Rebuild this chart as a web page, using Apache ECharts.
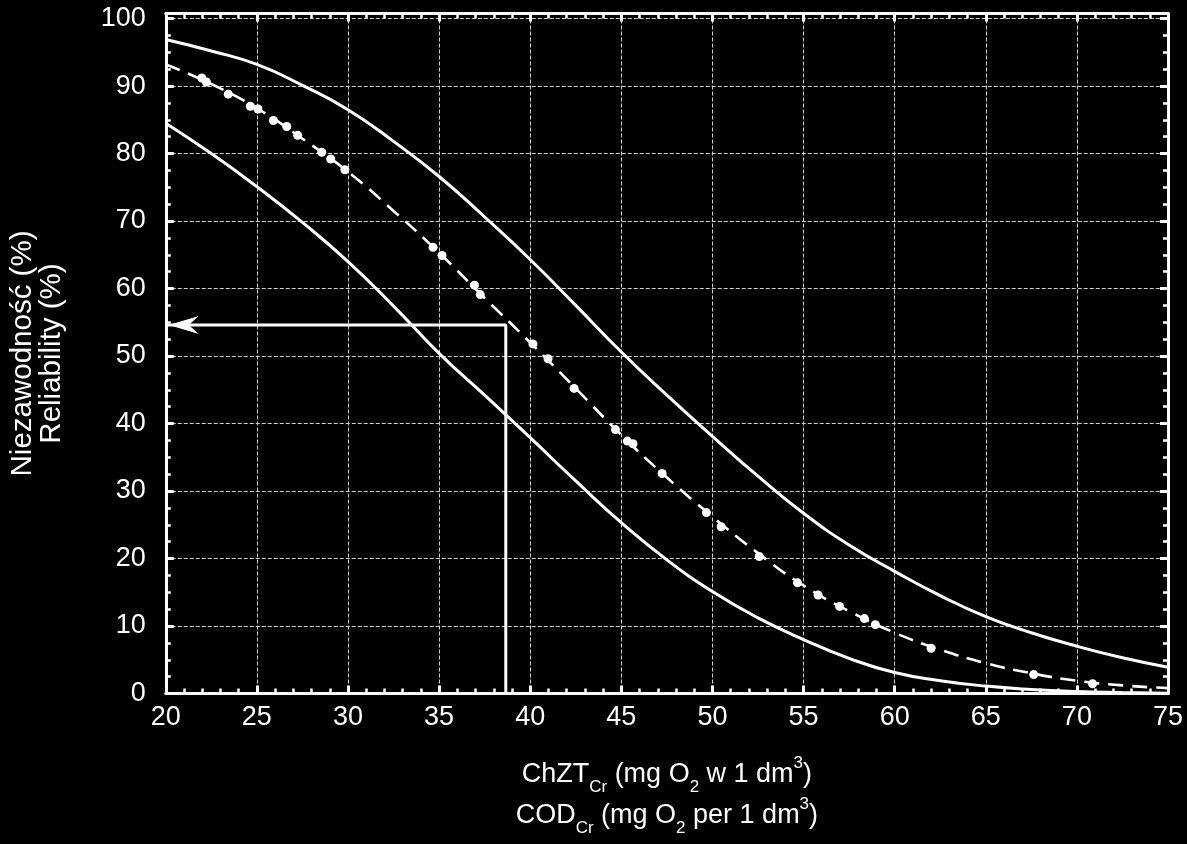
<!DOCTYPE html>
<html>
<head>
<meta charset="utf-8">
<script src="https://cdn.jsdelivr.net/npm/echarts@6/dist/echarts.min.js"></script>
<style>
html,body{margin:0;padding:0;background:#000;}
#c{width:1187px;height:844px;}
</style>
</head>
<body>
<div id="c"></div>
<script>
// ---- data ----
const xMin = 20, xMax = 75, xStep = 5;
const yMin = 0, yMax = 100.75, yStep = 10, yMinorStep = 2.5;
const curveX = [20, 22.5, 25, 27.5, 30, 32.5, 35, 37.5, 40, 42.5, 45, 47.5, 50, 52.5, 55, 57.5, 60, 62.5, 65, 67.5, 70, 72.5, 75];
const upperY = [96.9, 95.2, 93.2, 90.1, 86.5, 81.8, 76.6, 70.6, 64.3, 57.5, 50.6, 44.2, 38.1, 32.2, 26.7, 22.0, 18.1, 14.5, 11.4, 9.0, 7.0, 5.3, 3.9];
const lowerY = [84.5, 80.0, 75.1, 69.8, 64.0, 57.4, 50.4, 44.2, 37.9, 31.5, 25.3, 19.8, 15.1, 11.2, 8.0, 5.2, 3.1, 1.9, 1.1, 0.6, 0.3, 0.15, 0.05];
const fitY   = [93.2, 90.3, 86.7, 82.2, 77.3, 71.5, 65.3, 58.6, 52.0, 45.2, 38.3, 32.0, 26.2, 20.8, 16.0, 12.2, 9.0, 6.5, 4.5, 3.0, 1.9, 1.2, 0.8];
const obsX = [21.98, 22.23, 23.43, 24.64, 25.06, 25.91, 26.64, 27.24, 28.56, 29.05, 29.83, 34.67, 35.16, 36.94, 37.26, 40.15, 40.98, 42.41, 44.68, 45.33, 45.64, 47.24, 49.67, 50.48, 52.57, 54.67, 55.80, 56.98, 58.34, 58.94, 62.0, 67.63, 70.86];
const obsY = [91.2, 90.6, 88.8, 87.0, 86.6, 84.9, 84.0, 82.7, 80.2, 79.2, 77.6, 66.1, 64.9, 60.5, 59.1, 51.8, 49.6, 45.2, 39.1, 37.4, 37.0, 32.6, 26.8, 24.7, 20.3, 16.4, 14.6, 12.9, 11.1, 10.2, 6.7, 2.8, 1.45];
const readX = 38.66;
const readY = 54.6;    // resulting reliability
const yTitle = 'Niezawodność (%)\nReliability (%)';
const xTitle = '{m|ChZT}{s|Cr}{m| (mg O}{s|2}{m| w 1 dm}{p|3}{m|)}\n{m|COD}{s|Cr}{m| (mg O}{s|2}{m| per 1 dm}{p|3}{m|)}';

// ---- chart ----
const FONT = '"Liberation Sans", Arial, sans-serif';
const WHITE = '#ffffff';
const zip = (xs, ys) => xs.map((x, i) => [x, ys[i]]);
const gridLine = {show: true, lineStyle: {color: '#cfcfcf', width: 1, type: [4, 2]}};
const axisLineW = {show: true, onZero: false, lineStyle: {color: WHITE, width: 3}};
const majorTick = {show: true, inside: true, length: 8, lineStyle: {color: WHITE, width: 3}};
const minorTickStyle = {show: true, inside: true, length: 5, lineStyle: {color: WHITE, width: 2.5}};

const chart = echarts.init(document.getElementById('c'));
chart.setOption({
  backgroundColor: '#000000',
  animation: false,
  grid: {left: 157, right: 19, top: 13.5, bottom: 150.5},
  xAxis: [
    {
      type: 'value', min: xMin, max: xMax, interval: xStep, position: 'bottom',
      axisLine: axisLineW, axisTick: majorTick,
      minorTick: {show: true, splitNumber: 5, length: 5, lineStyle: {color: WHITE, width: 2.5}},
      axisLabel: {color: WHITE, fontSize: 27, fontFamily: FONT, margin: 11},
      splitLine: gridLine,
      name: xTitle, nameLocation: 'middle', nameGap: 61,
      nameTextStyle: {
        color: WHITE, fontFamily: FONT, fontSize: 27, lineHeight: 41,
        rich: {
          m: {color: WHITE, fontFamily: FONT, fontSize: 27, lineHeight: 41},
          s: {color: WHITE, fontFamily: FONT, fontSize: 17, lineHeight: 16, verticalAlign: 'bottom'},
          p: {color: WHITE, fontFamily: FONT, fontSize: 17, lineHeight: 38, verticalAlign: 'top'}
        }
      }
    },
    {
      type: 'value', min: xMin, max: xMax, interval: xStep, position: 'top',
      axisLine: axisLineW, axisTick: majorTick,
      minorTick: {show: true, splitNumber: 5, length: 5, lineStyle: {color: WHITE, width: 2.5}},
      axisLabel: {show: false}, splitLine: {show: false}
    }
  ],
  yAxis: [
    {
      type: 'value', min: yMin, max: yMax, interval: yStep, position: 'left',
      axisLine: axisLineW, axisTick: majorTick,
      axisLabel: {
        color: WHITE, fontSize: 27, fontFamily: FONT, margin: 20, padding: [0, 0, 6, 0],
        formatter: v => (Math.abs(v % yStep) < 1e-9 ? String(v) : '')
      },
      splitLine: gridLine,
      name: yTitle, nameLocation: 'middle', nameRotate: 90, nameGap: 100,
      nameTextStyle: {color: WHITE, fontFamily: FONT, fontSize: 29.5, lineHeight: 28.5, align: 'center'}
    },
    {
      type: 'value', min: yMin, max: yMax, interval: yStep, position: 'right',
      axisLine: axisLineW, axisTick: majorTick,
      axisLabel: {show: false}, splitLine: {show: false}
    },
    {
      type: 'value', min: yMin, max: yMax, interval: yMinorStep, position: 'left',
      axisLine: {show: false}, axisTick: minorTickStyle,
      axisLabel: {show: false}, splitLine: {show: false}
    },
    {
      type: 'value', min: yMin, max: yMax, interval: yMinorStep, position: 'right',
      axisLine: {show: false}, axisTick: minorTickStyle,
      axisLabel: {show: false}, splitLine: {show: false}
    }
  ],
  series: [
    {
      type: 'line', data: zip(curveX, upperY), showSymbol: false, smooth: 0.5,
      lineStyle: {color: WHITE, width: 3}, z: 3
    },
    {
      type: 'line', data: zip(curveX, lowerY), showSymbol: false, smooth: 0.5,
      lineStyle: {color: WHITE, width: 3}, z: 3
    },
    {
      type: 'line', data: zip(curveX, fitY), showSymbol: false, smooth: 0.5,
      lineStyle: {color: WHITE, width: 2.6, type: [15, 9]}, z: 3
    },
    {
      type: 'scatter', data: zip(obsX, obsY), symbol: 'circle', symbolSize: 9,
      itemStyle: {color: WHITE, opacity: 1}, z: 4
    },
    {
      type: 'line', data: [[readX, yMin], [readX, readY], [xMin, readY]], showSymbol: false,
      lineStyle: {color: WHITE, width: 3}, z: 3
    },
    {
      type: 'scatter', data: [[xMin, readY]],
      symbol: 'path://M0,9 L30,0 L20,9 L30,18 Z', symbolSize: [30, 18], symbolOffset: [18, 0],
      itemStyle: {color: WHITE, opacity: 1}, z: 4
    }
  ]
});
</script>
</body>
</html>
